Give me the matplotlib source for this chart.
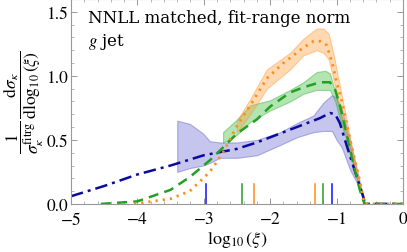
import numpy as np
import matplotlib
matplotlib.use("Agg")
import matplotlib.pyplot as plt

plt.rcParams['font.family'] = ['STIXGeneral', 'DejaVu Serif']
plt.rcParams['mathtext.fontset'] = 'stix'

# central curves
x_blue = [-5.0, -4.5, -4.0, -3.5, -3.0, -2.5, -2.2, -1.85, -1.6, -1.25, -1.1, -1.02, -0.95, -0.85, -0.72, -0.6, -0.57, 0.0]
y_blue = [0.06, 0.14, 0.23, 0.30, 0.38, 0.43, 0.48, 0.55, 0.60, 0.67, 0.71, 0.70, 0.63, 0.46, 0.25, 0.06, 0.0, 0.0]

x_green = [-4.55, -4.0, -3.5, -3.21, -2.91, -2.71, -2.5, -2.2, -2.0, -1.7, -1.5, -1.25, -1.1, -1.02, -0.95, -0.85, -0.75, -0.65, -0.58, 0.0]
y_green = [0.0, 0.02, 0.11, 0.21, 0.34, 0.44, 0.55, 0.66, 0.76, 0.87, 0.91, 0.95, 0.95, 0.89, 0.77, 0.55, 0.32, 0.11, 0.0, 0.0]

x_orange = [-4.05, -3.5, -3.21, -2.91, -2.71, -2.5, -2.3, -2.05, -1.8, -1.5, -1.35, -1.25, -1.15, -1.07, -1.0, -0.92, -0.8, -0.65, -0.58, 0.0]
y_orange = [0.0, 0.04, 0.10, 0.25, 0.40, 0.61, 0.77, 0.98, 1.10, 1.22, 1.27, 1.27, 1.24, 1.11, 0.95, 0.80, 0.51, 0.18, 0.0, 0.0]

# uncertainty bands
xb_blue = [-3.4, -3.21, -3.01, -2.91, -2.76, -2.5, -2.2, -1.85, -1.6, -1.35, -1.2, -1.07, -1.0, -0.92, -0.8, -0.7, -0.62, -0.57]
hi_blue = [0.65, 0.625, 0.55, 0.49, 0.48, 0.48, 0.50, 0.56, 0.63, 0.69, 0.79, 0.85, 0.83, 0.74, 0.50, 0.28, 0.10, 0.0]
lo_blue = [0.25, 0.28, 0.30, 0.32, 0.36, 0.36, 0.38, 0.46, 0.52, 0.56, 0.57, 0.57, 0.50, 0.44, 0.27, 0.17, 0.08, 0.0]

xb_green = [-2.71, -2.5, -2.3, -2.0, -1.7, -1.5, -1.3, -1.17, -1.1, -1.02, -0.95, -0.85, -0.75, -0.65, -0.58]
hi_green = [0.56, 0.66, 0.77, 0.81, 0.89, 0.95, 1.03, 1.04, 1.02, 0.87, 0.72, 0.56, 0.34, 0.13, 0.0]
lo_green = [0.48, 0.54, 0.64, 0.73, 0.80, 0.86, 0.89, 0.89, 0.89, 0.80, 0.66, 0.50, 0.30, 0.10, 0.0]

xb_orange = [-2.5, -2.3, -2.05, -1.7, -1.5, -1.3, -1.2, -1.12, -1.05, -0.95, -0.85, -0.75, -0.65, -0.58]
hi_orange = [0.65, 0.82, 1.05, 1.18, 1.29, 1.37, 1.37, 1.33, 1.18, 0.92, 0.66, 0.40, 0.16, 0.0]
lo_orange = [0.56, 0.70, 0.90, 1.05, 1.16, 1.20, 1.18, 1.13, 0.98, 0.74, 0.55, 0.33, 0.12, 0.0]

# fit-range markers
fit_blue = [-2.97, -1.07]
fit_green = [-2.42, -1.20]
fit_orange = [-2.25, -1.33]

c_blue, c_green, c_orange = '#0a0aa0', '#22a022', '#ff8c1a'

fig = plt.figure(figsize=(4.07, 2.53), dpi=100)
ax = fig.add_axes([0.1744, 0.19, 0.8157, 0.81])

ax.fill_between(xb_blue, lo_blue, hi_blue, color='#8080d8', alpha=0.45, lw=0.8, edgecolor='#6060c8')
ax.fill_between(xb_green, lo_green, hi_green, color='#40c040', alpha=0.4, lw=0.8, edgecolor='#30a030')
ax.fill_between(xb_orange, lo_orange, hi_orange, color='#ffa040', alpha=0.4, lw=0.8, edgecolor='#ff9030')

ax.plot(x_blue, y_blue, color=c_blue, lw=1.8, dashes=(5, 2, 1.2, 2))
ax.plot(x_green, y_green, color=c_green, lw=1.8, dashes=(4, 2.5))
ax.plot(x_orange, y_orange, color=c_orange, lw=2.0, dashes=(0.8, 1.8))

for xv in fit_blue:
    ax.plot([xv, xv], [0, 0.155], color='#1010ff', lw=1.1)
for xv in fit_green:
    ax.plot([xv, xv], [0, 0.155], color='#20a020', lw=1.1)
for xv in fit_orange:
    ax.plot([xv, xv], [0, 0.155], color='#ff8c1a', lw=1.1)

ax.set_xlim(-5, 0)
ax.set_ylim(0, 1.6)
ax.set_xticks([-5, -4, -3, -2, -1, 0])
ax.set_xticklabels(['$-5$', '$-4$', '$-3$', '$-2$', '$-1$', '$0$'])
ax.set_xticks(np.arange(-5, 0.01, 0.2), minor=True)
ax.set_yticks([0.0, 0.5, 1.0, 1.5])
ax.set_yticklabels(['0.0', '0.5', '1.0', '1.5'])
ax.set_yticks(np.arange(0, 1.61, 0.1), minor=True)
ax.tick_params(which='both', direction='in', top=True, right=True, colors='#999999',
               labelcolor='black', labelsize=12.5, pad=2)
ax.tick_params(axis='x', which='major', pad=5)
ax.tick_params(which='major', length=4, width=0.7)
ax.tick_params(which='minor', length=2, width=0.5)
for s in ax.spines.values():
    s.set_color('#999999')
    s.set_linewidth(0.8)

ax.set_xlabel(r'$\log_{10}(\xi)$', fontsize=13, labelpad=1)
ax.set_ylabel(r'$\dfrac{1}{\sigma_\kappa^{\mathrm{fitrg}}}\,\dfrac{\mathrm{d}\sigma_\kappa}{\mathrm{d}\log_{10}(\xi)}$',
              fontsize=12.5, labelpad=0)

ax.text(0.051, 0.912, 'NNLL matched, fit-range norm', transform=ax.transAxes,
        family='DejaVu Serif', fontsize=12, va='center', ha='left')
ax.text(0.051, 0.795, r'$g$ jet', transform=ax.transAxes,
        family='DejaVu Serif', fontsize=12, va='center', ha='left')

fig.savefig('out.png', dpi=100)
